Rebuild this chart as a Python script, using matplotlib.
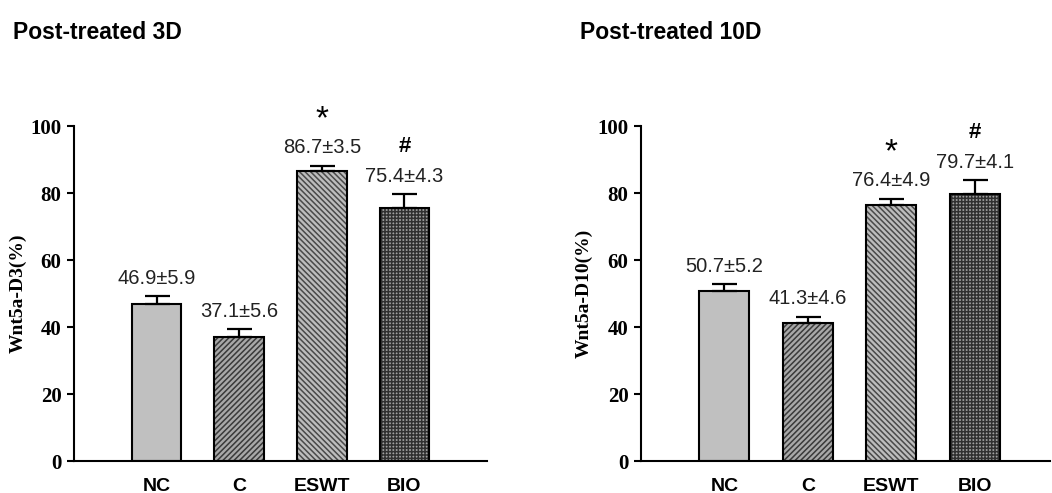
"""
Wnt5a expression, post-treated 3D and 10D
"""

import matplotlib
matplotlib.use("Agg")
import matplotlib.pyplot as plt

# ---------------------------------
# Data
# ---------------------------------

groups = ["NC", "C", "ESWT", "BIO"]

d3_mean = [46.9, 37.1, 86.7, 75.4]
d3_sd = [5.9, 5.6, 3.5, 4.3]
d3_err = [2.4, 2.3, 1.5, 4.3]      # error bar length as drawn

d10_mean = [50.7, 41.3, 76.4, 79.7]
d10_sd = [5.2, 4.6, 4.9, 4.1]
d10_err = [2.0, 1.8, 1.9, 4.1]

marks = ["", "", "*", "#"]

# ---------------------------------
# Bar styles
# ---------------------------------

faces = ["#c0c0c0", "#a8a8a8", "#bdbdbd", "#a0a0a0"]
hatch_colors = ["#c0c0c0", "#3a3a3a", "#4a4a4a", "#303030"]
hatches = ["", "//////", "\\\\\\\\\\\\", "+++++"]

plt.rcParams["hatch.linewidth"] = 1.1

fig = plt.figure(figsize=(10.52, 4.93), dpi=100)

ax1 = fig.add_axes([0.0703, 0.0649, 0.3926, 0.6795])
ax2 = fig.add_axes([0.6093, 0.0649, 0.3887, 0.6795])


def draw_panel(ax, means, sds, errs, ylabel, label_x):
    x = list(range(len(groups)))

    # hatched fill
    ax.bar(x, means, width=0.6, color=faces, edgecolor=hatch_colors,
           hatch=hatches, linewidth=0, zorder=2)
    # black outline
    ax.bar(x, means, width=0.6, fill=False, edgecolor="black",
           linewidth=1.5, zorder=3)

    ax.errorbar(x, means, yerr=[[0] * len(errs), errs], fmt="none",
                ecolor="black", elinewidth=1.6, capsize=9, capthick=1.6,
                zorder=4)

    for i in x:
        top = means[i] + errs[i]
        ax.annotate(f"{means[i]}\u00b1{sds[i]}", (i, top),
                    xytext=(0, 6), textcoords="offset points",
                    ha="center", va="bottom", fontsize=14.5,
                    family="Liberation Sans", color="#222222")
        if marks[i] == "*":
            ax.annotate("*", (i, top), xytext=(0, 22),
                        textcoords="offset points", ha="center",
                        va="bottom", fontsize=24, family="Liberation Sans")
        elif marks[i] == "#":
            ax.annotate("#", (i, top), xytext=(0, 27),
                        textcoords="offset points", ha="center",
                        va="bottom", fontsize=16, fontweight="bold",
                        family="Liberation Sans")

    ax.set_xlim(-1, 3.9)
    ax.set_ylim(0, 100)
    ax.set_yticks([0, 20, 40, 60, 80, 100])
    ax.set_xticks(x)
    ax.set_xticklabels(groups, fontsize=14, fontweight="bold",
                       family="Liberation Sans")
    for lab in ax.get_yticklabels():
        lab.set_family("Liberation Serif")
        lab.set_fontweight("bold")
        lab.set_fontsize(15)

    ax.tick_params(axis="x", length=0, pad=12)
    ax.tick_params(axis="y", direction="out", length=5, width=1.5, pad=4)

    ax.set_ylabel(ylabel, fontsize=14, fontweight="bold",
                  family="Liberation Serif")
    ax.yaxis.set_label_coords(label_x, 0.5)

    ax.spines["top"].set_visible(False)
    ax.spines["right"].set_visible(False)
    ax.spines["left"].set_linewidth(1.5)
    ax.spines["bottom"].set_linewidth(1.5)


draw_panel(ax1, d3_mean, d3_sd, d3_err, "Wnt5a-D3(%)", -0.115)
draw_panel(ax2, d10_mean, d10_sd, d10_err, "Wnt5a-D10(%)", -0.118)
ax1.set_xlim(-1, 4)

# ---------------------------------
# Panel titles
# ---------------------------------

fig.text(0.012, 0.935, "Post-treated 3D", fontsize=16.5, fontweight="bold",
         family="Liberation Sans", va="center")
fig.text(0.551, 0.935, "Post-treated 10D", fontsize=16.5, fontweight="bold",
         family="Liberation Sans", va="center")

fig.savefig("out.png", dpi=100)
